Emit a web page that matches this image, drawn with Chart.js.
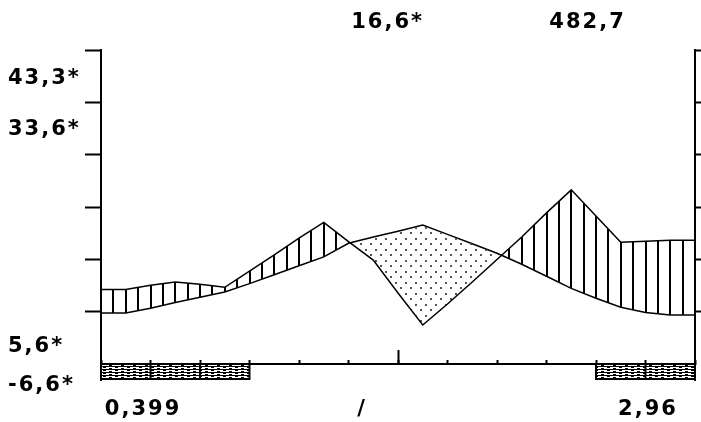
<!DOCTYPE html>
<html lang="en">
<head>
<meta charset="UTF-8" />
<title>Chart</title>
<script src="https://cdn.jsdelivr.net/npm/chart.js"></script>
<style>
  html, body { margin: 0; padding: 0; background: #fff; }
  .wrap { position: relative; width: 701px; height: 422px; }
</style>
</head>
<body>
<div class="wrap"><canvas id="chart"></canvas></div>
<script>
  // data
  const steps = [0, 1, 2, 3, 4, 5, 6, 7, 8, 9, 10, 11, 12, 13, 14, 15, 16, 17, 18, 19, 20, 21, 22, 23, 24];
  const upperSeries = [1.43, 1.43, 1.51, 1.57, 1.53, 1.47, 1.78, 2.09, 2.41, 2.71, 2.34, 1.99, 1.36,
    0.75, 1.15, 1.57, 2.0, 2.43, 2.89, 3.33, 2.83, 2.33, 2.35, 2.37, 2.37];
  const lowerSeries = [0.98, 0.98, 1.07, 1.18, 1.28, 1.38, 1.54, 1.71, 1.88, 2.05, 2.31, 2.43, 2.54,
    2.66, 2.48, 2.3, 2.12, 1.91, 1.68, 1.45, 1.26, 1.09, 0.99, 0.94, 0.94];
  const shadedSpans = [[0, 6], [20, 24]];
  const spanDividers = [2, 4, 6, 20, 22];
  const spanDepth = -0.3;
  const yMarks = [1, 2, 3, 4, 5, 6];
  const leftLabelValues = [5.46, 4.49, 0.34, -0.41];
  const leftLabels = ['43,3*', '33,6*', '5,6*', '-6,6*'];
  const bottomLabelValues = [1.7, 10.55, 22.1];
  const bottomLabels = ['0,399', '/', '2,96'];
  const topLabelValues = [11.58, 19.66];
  const topLabels = ['16,6*', '482,7'];

  function makePattern(w, h, paint) {
    const c = document.createElement('canvas');
    c.width = w;
    c.height = h;
    const g = c.getContext('2d');
    paint(g);
    return g.createPattern(c, 'repeat');
  }

  // vertical hatching, roughly every 12.4px
  const hatch = makePattern(99, 4, g => {
    g.fillStyle = '#000';
    [2, 14, 27, 39, 52, 64, 76, 89].forEach(x => g.fillRect(x - 1, 0, 2, 4));
  });
  const dots = makePattern(10, 11, g => {
    g.fillStyle = '#555';
    g.fillRect(5, 7, 2, 2);
    g.fillRect(0, 1, 2, 2);
  });
  const brick = makePattern(12, 3, g => {
    g.fillStyle = '#000';
    g.fillRect(0, 0, 12, 1);
    g.fillRect(7, 1, 3, 1);
    g.fillRect(1, 2, 3, 1);
  });

  const labelFont = { family: 'DejaVu Sans', size: 21, weight: 'bold' };

  const dividerPoints = [];
  spanDividers.forEach(x => {
    dividerPoints.push({ x: x, y: 0 }, { x: x, y: spanDepth }, { x: x + 0.5, y: null });
  });

  const spacing = {
    id: 'spacing',
    beforeUpdate(chart) { chart.ctx.letterSpacing = '2px'; },
    beforeLayout(chart) { chart.ctx.letterSpacing = '2px'; },
    beforeDraw(chart) { chart.ctx.letterSpacing = '2px'; }
  };

  const lineStyle = { borderColor: '#000', borderWidth: 1.5, pointRadius: 0, tension: 0, xAxisID: 'x', yAxisID: 'y' };

  new Chart(document.getElementById('chart'), {
    type: 'line',
    data: {
      datasets: [
        Object.assign({
          data: steps.map((x, i) => ({ x: x, y: upperSeries[i] })),
          fill: { target: '+1', above: hatch, below: dots }
        }, lineStyle),
        Object.assign({
          data: steps.map((x, i) => ({ x: x, y: lowerSeries[i] })),
          fill: false
        }, lineStyle),
        Object.assign({ data: dividerPoints, fill: false, spanGaps: false }, lineStyle, { borderWidth: 2 }),
        ...shadedSpans.map(s => Object.assign({
          data: [{ x: s[0], y: spanDepth }, { x: s[1], y: spanDepth }],
          fill: { target: 'origin', above: brick, below: brick }
        }, lineStyle, { borderWidth: 2 }))
      ]
    },
    options: {
      responsive: true,
      maintainAspectRatio: false,
      animation: false,
      layout: { padding: { left: 8, right: 0, top: 0, bottom: 0 } },
      plugins: { legend: { display: false }, tooltip: { enabled: false } },
      scales: {
        x: {
          type: 'linear', position: 'bottom', min: 0, max: 24,
          grid: { display: false }, border: { display: false },
          afterBuildTicks: s => { s.ticks = bottomLabelValues.map(v => ({ value: v })); },
          afterFit: s => { s.height = 42; },
          ticks: { autoSkip: false, maxRotation: 0, padding: 9, color: '#000', font: labelFont,
            callback: (v, i) => bottomLabels[i] }
        },
        xTop: {
          type: 'linear', position: 'top', min: 0, max: 24,
          grid: { display: false }, border: { display: false },
          afterBuildTicks: s => { s.ticks = topLabelValues.map(v => ({ value: v })); },
          afterFit: s => { s.height = 50; },
          ticks: { autoSkip: false, maxRotation: 0, padding: 7, color: '#000', font: labelFont,
            callback: (v, i) => topLabels[i] }
        },
        xBase: {
          type: 'linear', position: { y: 0 }, min: 0, max: 24, z: 1,
          grid: { drawOnChartArea: false, tickLength: -5, tickColor: '#000', tickWidth: 2 },
          border: { color: '#000', width: 2 },
          ticks: { display: false, stepSize: 2 }
        },
        xMid: {
          type: 'linear', position: { y: 0 }, min: 0, max: 24, z: 1,
          afterBuildTicks: s => { s.ticks = [{ value: 12 }]; },
          grid: { drawOnChartArea: false, tickLength: -14, tickColor: '#000', tickWidth: 2 },
          border: { display: false },
          ticks: { display: false }
        },
        y: {
          type: 'linear', position: 'left', min: spanDepth, max: 6,
          afterBuildTicks: s => { s.ticks = yMarks.concat(leftLabelValues).map(v => ({ value: v })); },
          afterFit: s => { s.width = 93; },
          grid: {
            drawOnChartArea: false, tickLength: 16, tickWidth: 2,
            tickColor: c => (c.tick && Number.isInteger(c.tick.value)) ? '#000' : 'rgba(0,0,0,0)'
          },
          border: { color: '#000', width: 2 },
          ticks: {
            crossAlign: 'far', autoSkip: false, color: '#000', font: labelFont,
            callback: (v, i) => i < yMarks.length ? '' : leftLabels[i - yMarks.length]
          }
        },
        yRight: {
          type: 'linear', position: 'right', min: spanDepth, max: 6,
          afterBuildTicks: s => { s.ticks = yMarks.map(v => ({ value: v })); },
          afterFit: s => { s.width = 6; },
          grid: { drawOnChartArea: false, tickLength: 6, tickColor: '#000', tickWidth: 2 },
          border: { color: '#000', width: 2 },
          ticks: { display: false }
        }
      }
    },
    plugins: [spacing]
  });
</script>
</body>
</html>
